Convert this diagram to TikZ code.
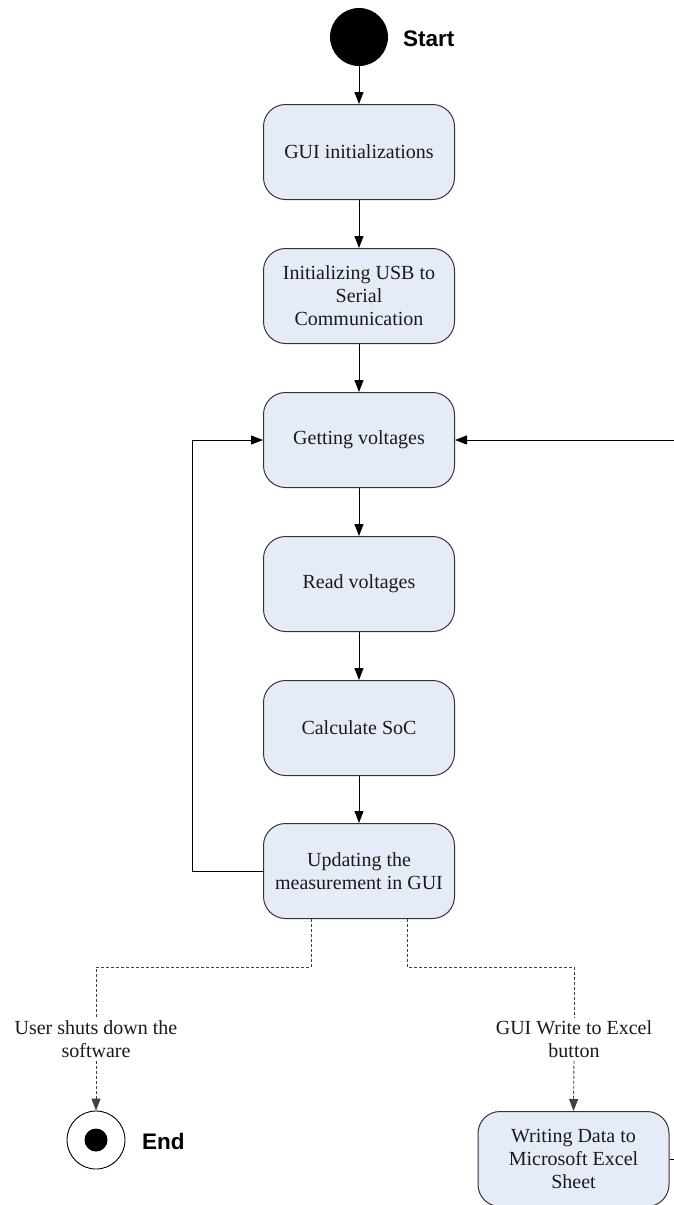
\documentclass[tikz,border=0pt]{standalone}
\usepackage{fontspec}
\setmainfont{Liberation Serif}
\newfontfamily\lsans{Liberation Sans}
\usetikzlibrary{arrows.meta}
\definecolor{boxfill}{HTML}{E6ECF7}
\definecolor{boxline}{HTML}{333333}
\definecolor{txt}{HTML}{1A1A1A}
\begin{document}
\begin{tikzpicture}[x=1pt,y=-1pt,
  stepbox/.style={draw=boxline, fill=boxfill, line width=1pt, rounded corners=22pt,
    minimum width=191pt, minimum height=95pt, align=center, text=txt,
    font=\fontsize{20}{23}\selectfont, inner sep=0pt},
  flow/.style={line width=0.9pt, -{Triangle[length=12pt,width=9pt]}},
  guard/.style={flow, dash pattern=on 3pt off 2pt, draw=black!75},
  lbl/.style={align=center, text=txt, font=\fontsize{20}{23}\selectfont, inner xsep=0pt, inner ysep=3pt},
  big/.style={font=\lsans\bfseries\fontsize{22.5}{26}\selectfont, anchor=west, inner sep=0pt},
]
\clip (0,0) rectangle (674,1205);
\fill[white] (0,0) rectangle (674,1205);

% start
\node[circle, fill=black, minimum size=58pt, inner sep=0pt] (start) at (359,37) {};
\node[big] (startlbl) at (403,39) {Start};

% activity boxes
\node[stepbox] (b1) at (359,152) {GUI initializations};
\node[stepbox] (b2) at (359,296) {Initializing USB to\\Serial\\Communication};
\node[stepbox] (b3) at (359,440) {Getting voltages};
\node[stepbox] (b4) at (359,584) {Read voltages};
\node[stepbox] (b5) at (359,728) {Calculate SoC};
\node[stepbox] (b6) at (359,871) {Updating the\\measurement in GUI};
\node[stepbox] (b7) at (573.5,1159) {Writing Data to\\Microsoft Excel\\Sheet};

% end
\node[circle, draw=black, line width=0.9pt, minimum size=58pt, inner sep=0pt] (end) at (96,1140) {};
\node[circle, fill=black, minimum size=23pt, inner sep=0pt] (endcore) at (end.center) {};
\node[big] (endlbl) at (142,1141) {End};

% guard labels
\node[lbl] (g1) at (96,1039) {User shuts down the\\software};
\node[lbl] (g2) at (574,1039) {GUI Write to Excel\\button};

% main flow
\draw[flow] (start) -- (b1);
\draw[flow] (b1) -- (b2);
\draw[flow] (b2) -- (b3);
\draw[flow] (b3) -- (b4);
\draw[flow] (b4) -- (b5);
\draw[flow] (b5) -- (b6);

% loop back on the left
\coordinate (loopL) at (192,871);
\draw[flow] (b6.west) -- (loopL) |- (b3.west);

% loop back on the right (runs out of the picture)
\coordinate (loopR) at (700,1159);
\draw[flow] (b7.east) -- (loopR) |- (b3.east);

% dashed guarded transitions
\draw[guard, -] ([xshift=-48pt]b6.south) -- ++(0,48) -| (g1.north);
\draw[guard] (g1.south) -- (end.north);
\draw[guard, -] ([xshift=48pt]b6.south) -- ++(0,48) -| (g2.north);
\draw[guard] (g2.south) -- (b7.north);
\end{tikzpicture}
\end{document}
